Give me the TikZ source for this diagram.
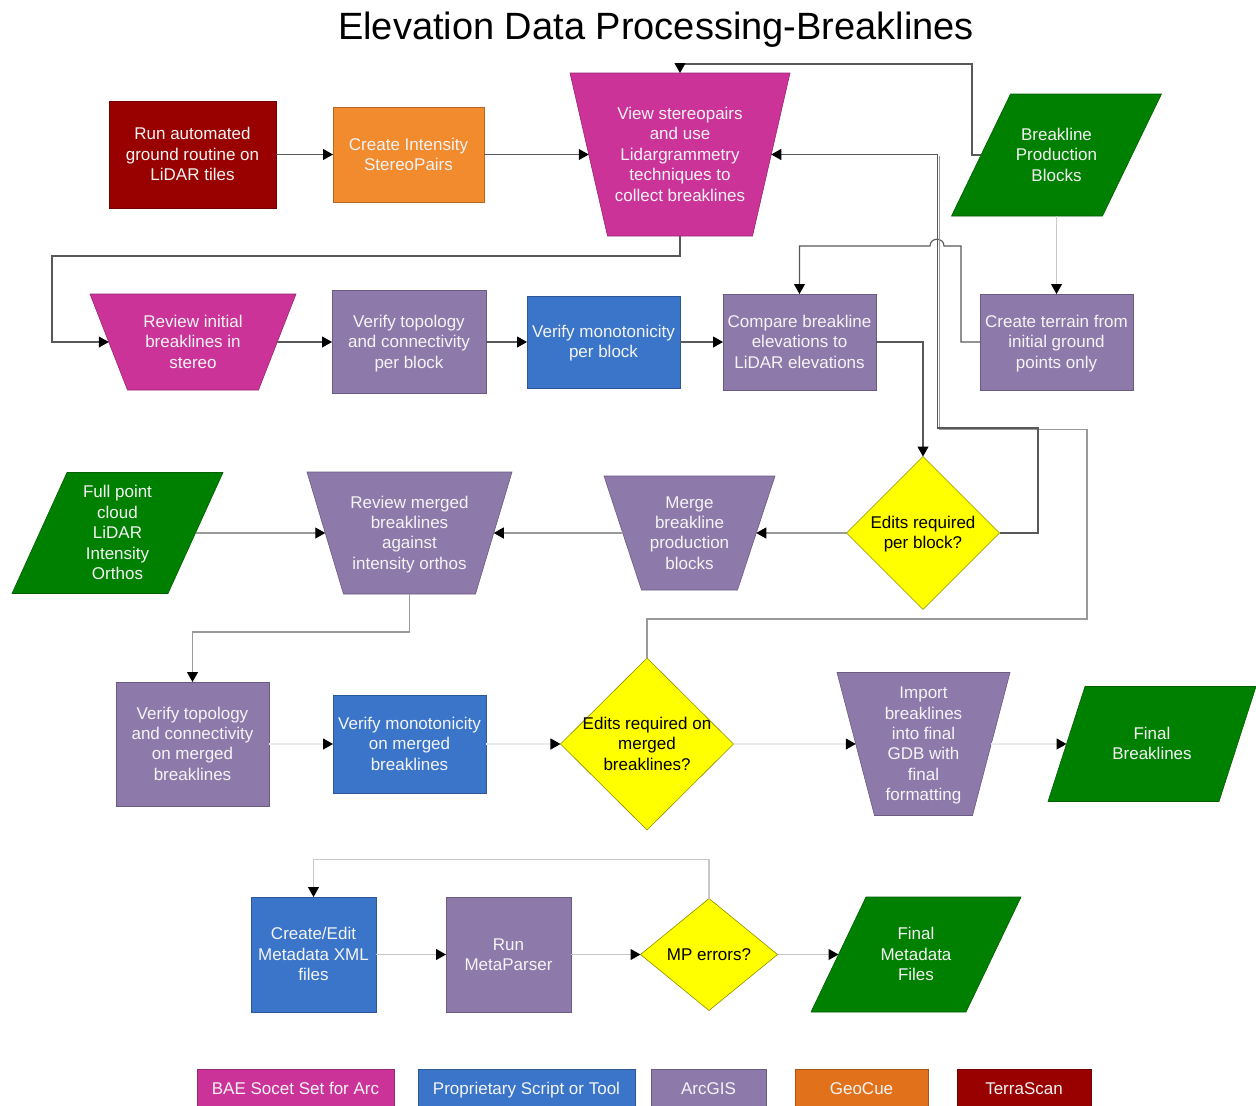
\documentclass[tikz,border=0pt]{standalone}
\usepackage{fontspec}
\setmainfont{Liberation Sans}
\usetikzlibrary{shapes.geometric,arrows.meta,backgrounds}
\definecolor{cMag}{HTML}{CC3399}
\definecolor{cBlu}{HTML}{3A75CA}
\definecolor{cPur}{HTML}{8E79AB}
\definecolor{cOrg}{HTML}{F28A2E}
\definecolor{cOrgL}{HTML}{E2711C}
\definecolor{cRed}{HTML}{990000}
\definecolor{cGrn}{HTML}{008000}
\definecolor{cYel}{HTML}{FFFF00}
\definecolor{cTxt}{HTML}{F4F4F4}
\definecolor{lnDk}{HTML}{585858}
\definecolor{lnMd}{HTML}{9A9A9A}
\definecolor{lnLt}{HTML}{C8C8C8}
\definecolor{lnVl}{HTML}{EBEBEB}
\newcommand\nodefont{\fontsize{17}{20.4}\selectfont}
\newcommand\zt[1]{\makebox[0pt]{\raisebox{-6pt}[0pt][0pt]{\begin{tabular}{@{}c@{}}#1\end{tabular}}}}
% fill a four-cornered outline round a (mid-height sized) node: shifts of NW, NE, SE, SW corners
\newcommand\quadfill[6]{\filldraw[fill=#2, draw=#2!75!black, line width=0.6pt] ([xshift=#3]#1.north west) -- ([xshift=#4]#1.north east) -- ([xshift=#5]#1.south east) -- ([xshift=#6]#1.south west) -- cycle;}
\newcommand\invtrap[3]{\quadfill{#1}{#2}{-#3}{#3}{-#3}{#3}}
\newcommand\paragram[3]{\quadfill{#1}{#2}{#3}{#3}{-#3}{-#3}}
\begin{document}
\begin{tikzpicture}[x=1pt,y=-1pt,
  base/.style={inner sep=0pt, outer sep=0pt, font=\nodefont, text=cTxt},
  box/.style={base, rectangle, fill=#1, draw=#1!75!black, line width=0.6pt},
  slant/.style={base, rectangle},
  dia/.style={base, diamond, text=black, fill=cYel, draw=cYel!55!black, line width=0.6pt},
  ar/.style={-{Triangle[length=10pt,width=11pt,color=black]}, line width=1.1pt},
  ln/.style={line width=1.1pt},
]
\useasboundingbox (0,0) rectangle (1256,1106);
\node[font=\fontsize{38}{44}\selectfont, anchor=base] (title) at (656,39) {Elevation Data Processing-Breaklines};

% row 1
\node[box=cRed, minimum width=167pt, minimum height=107pt] (run) at (192.5,154.5) {\zt{Run automated\\ground routine on\\LiDAR tiles}};
\node[box=cOrg, minimum width=151pt, minimum height=95pt] (intens) at (408.5,154.5) {\zt{Create Intensity\\StereoPairs}};
\node[slant, minimum width=182.5pt, minimum height=163pt] (view) at (680,154.5) {\zt{View stereopairs\\and use\\Lidargrammetry\\techniques to\\collect breaklines}};
\node[slant, minimum width=151pt, minimum height=122pt] (bpb) at (1056.5,155) {\zt{Breakline\\Production\\Blocks}};

% row 2
\node[slant, minimum width=168.5pt, minimum height=96pt] (rinit) at (193,342) {\zt{Review initial\\breaklines in\\stereo}};
\node[box=cPur, minimum width=154pt, minimum height=103pt] (vtop) at (409,342) {\zt{Verify topology\\and connectivity\\per block}};
\node[box=cBlu, minimum width=153pt, minimum height=92pt] (vmono) at (603.5,342) {\zt{Verify monotonicity\\per block}};
\node[box=cPur, minimum width=153pt, minimum height=96pt] (cmp) at (799.5,342) {\zt{Compare breakline\\elevations to\\LiDAR elevations}};
\node[box=cPur, minimum width=153pt, minimum height=96pt] (terrain) at (1056.5,342) {\zt{Create terrain from\\initial ground\\points only}};

% row 3
\node[slant, minimum width=156pt, minimum height=121pt] (fpc) at (117.5,533) {\zt{Full point\\cloud\\LiDAR\\Intensity\\Orthos}};
\node[slant, minimum width=168.5pt, minimum height=122pt] (rmerged) at (409.5,533) {\zt{Review merged\\breaklines\\against\\intensity orthos}};
\node[slant, minimum width=133.5pt, minimum height=114pt] (merge) at (689.5,533) {\zt{Merge\\breakline\\production\\blocks}};
\node[dia, minimum width=153pt, minimum height=153pt] (epb) at (923,533) {\zt{Edits required\\per block?}};

% row 4
\node[box=cPur, minimum width=153pt, minimum height=124pt] (vtopm) at (192.5,744) {\zt{Verify topology\\and connectivity\\on merged\\breaklines}};
\node[box=cBlu, minimum width=153pt, minimum height=98pt] (vmonom) at (409.5,744) {\zt{Verify monotonicity\\on merged\\breaklines}};
\node[dia, minimum width=173pt, minimum height=172pt] (erm) at (647,744) {\zt{Edits required on\\merged\\breaklines?}};
\node[slant, minimum width=135.5pt, minimum height=143pt] (import) at (923.5,744) {\zt{Import\\breaklines\\into final\\GDB with\\final\\formatting}};
\node[slant, minimum width=171pt, minimum height=115pt] (finalbl) at (1152,744) {\zt{Final\\Breaklines}};

% row 5
\node[box=cBlu, minimum width=125pt, minimum height=115pt] (cedit) at (313.5,954.5) {\zt{Create/Edit\\Metadata XML\\files}};
\node[box=cPur, minimum width=125pt, minimum height=115pt] (runmp) at (508.5,954.5) {\zt{Run\\MetaParser}};
\node[dia, minimum width=137pt, minimum height=112pt] (mperr) at (709,954.5) {\zt{MP errors?}};
\node[slant, minimum width=155pt, minimum height=115pt] (finalmd) at (916,954.5) {\zt{Final\\Metadata\\Files}};

% slanted outlines, behind the texts
\begin{pgfonlayer}{background}
\invtrap{view}{cMag}{18.75pt}
\invtrap{rinit}{cMag}{18.75pt}
\invtrap{rmerged}{cPur}{18.25pt}
\invtrap{merge}{cPur}{18.75pt}
\invtrap{import}{cPur}{18.75pt}
\paragram{bpb}{cGrn}{29.5pt}
\paragram{fpc}{cGrn}{27.5pt}
\paragram{finalbl}{cGrn}{18.5pt}
\paragram{finalmd}{cGrn}{27.5pt}
\end{pgfonlayer}

% legend
\node[box=cMag, minimum width=197pt, minimum height=39pt] (lgBae) at (295.5,1088.5) {\zt{BAE Socet Set for Arc}};
\node[box=cBlu, minimum width=217pt, minimum height=39pt] (lgProp) at (526.5,1088.5) {\zt{Proprietary Script or Tool}};
\node[box=cPur, minimum width=115pt, minimum height=39pt] (lgArc) at (708.5,1088.5) {\zt{ArcGIS}};
\node[box=cOrgL, minimum width=133pt, minimum height=39pt] (lgGeo) at (861.5,1088.5) {\zt{GeoCue}};
\node[box=cRed, minimum width=134pt, minimum height=39pt] (lgTerra) at (1024,1088.5) {\zt{TerraScan}};

% connectors
\draw[ar, lnDk] (run) -- (intens);
\draw[ar, lnDk] (intens) -- (view);
\draw[ar, lnDk] (bpb) -- (972,155) -- (972,64) -| (view.north);
\draw[ar, lnDk] (view.south) -- ++(0,20) -| (52,342) -- (rinit);
\draw[ar, lnDk] (rinit) -- (vtop);
\draw[ar, lnDk] (vtop) -- (vmono);
\draw[ar, lnDk] (vmono) -- (cmp);
\draw[ar, lnLt] (bpb) -- (terrain);
\draw[ar, lnDk] (terrain) -- (961,342) -- (961,246) -- (944,246) .. controls (944,237) and (930,237) .. (930,246) -- (799.5,246) -- (cmp.north);
\draw[ar, lnDk] (cmp.east) -| (epb.north);
\draw[ln, lnMd] (erm.north) -- (647,619) -- (1087,619) -- (1087,429.5) -- (939.5,429.5) -- (939.5,156);
\draw[ar, lnDk] (epb.east) -- (1038,533) -- (1038,428) -- (937.5,428) -- (937.5,154.5) -- (view);
\draw[ar, lnMd] (epb) -- (merge);
\draw[ar, lnMd] (merge) -- (rmerged);
\draw[ar, lnMd] (fpc) -- (rmerged);
\draw[ar, lnMd] (rmerged.south) -- ++(0,38) -| (vtopm.north);
\draw[ar, lnVl] (vtopm) -- (vmonom);
\draw[ar, lnVl] (vmonom) -- (erm);
\draw[ar, lnVl] (erm) -- (import);
\draw[ar, lnVl] (import) -- (finalbl);
\draw[ar, lnLt] (cedit) -- (runmp);
\draw[ar, lnLt] (runmp) -- (mperr);
\draw[ar, lnLt] (mperr) -- (finalmd);
\draw[ar, lnLt] (mperr.north) -- ++(0,-39) -| (cedit.north);
\end{tikzpicture}
\end{document}
